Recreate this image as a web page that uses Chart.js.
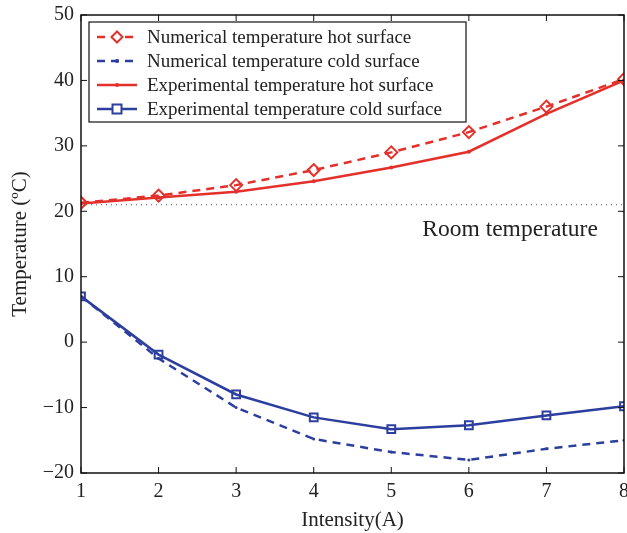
<!DOCTYPE html>
<html>
<head>
<meta charset="utf-8">
<script src="https://cdn.jsdelivr.net/npm/chart.js@4"></script>
<style>
html, body { margin: 0; padding: 0; background: #fff; }
#chart_box { width: 627px; height: 533px; }
</style>
</head>
<body>
<div id="chart_box"><canvas id="temp_chart"></canvas></div>
<script>
// data
var intensity = [1, 2, 3, 4, 5, 6, 7, 8];
var num_hot = [21.3, 22.4, 24.0, 26.3, 29.0, 32.1, 36.0, 40.2];
var num_cold = [7.0, -2.5, -10.0, -14.8, -16.8, -18.0, -16.3, -15.0];
var exp_hot = [21.2, 22.1, 23.0, 24.6, 26.7, 29.1, 34.9, 40.0];
var exp_cold = [7.0, -1.9, -8.0, -11.5, -13.3, -12.7, -11.2, -9.8];
var room_temp = 21;
var y_ticks = [-20, -10, 0, 10, 20, 30, 40, 50];

var red = '#e4302a';
var blue = '#2c3e9e';
var serif = '"Liberation Serif", "DejaVu Serif", serif';

function pts(values)
{
	var out = [];
	for (var i = 0; i < intensity.length; i++)
		out.push({x: intensity[i], y: values[i]});
	return out;
}

var legend_items = [
	{label: 'Numerical temperature hot surface', color: red, dash: [8, 6], marker: 'diamond'},
	{label: 'Numerical temperature cold surface', color: blue, dash: [8, 6], marker: 'dot'},
	{label: 'Experimental temperature hot surface', color: red, dash: [], marker: 'dot'},
	{label: 'Experimental temperature cold surface', color: blue, dash: [], marker: 'square'}
];

//frame, inward ticks, legend and room temperature label
var frame_plugin = {
	id: 'frame_plugin',
	afterDatasetsDraw: function(chart)
	{
		var ctx = chart.ctx;
		var a = chart.chartArea;
		var xs = chart.scales.x, ys = chart.scales.y;
		ctx.save();
		ctx.strokeStyle = '#111';
		ctx.lineWidth = 1.5;
		ctx.strokeRect(a.left, a.top, a.right - a.left, a.bottom - a.top);
		ctx.lineWidth = 1;
		for (var i = 0; i < intensity.length; i++)
		{
			var px = xs.getPixelForValue(intensity[i]);
			ctx.beginPath();
			ctx.moveTo(px, a.bottom); ctx.lineTo(px, a.bottom - 6);
			ctx.moveTo(px, a.top); ctx.lineTo(px, a.top + 6);
			ctx.stroke();
		}
		for (var j = 0; j < y_ticks.length; j++)
		{
			var py = ys.getPixelForValue(y_ticks[j]);
			ctx.beginPath();
			ctx.moveTo(a.left, py); ctx.lineTo(a.left + 6, py);
			ctx.moveTo(a.right, py); ctx.lineTo(a.right - 6, py);
			ctx.stroke();
		}

		// room temperature text
		ctx.fillStyle = '#222';
		ctx.font = '23.5px ' + serif;
		ctx.textAlign = 'left';
		ctx.textBaseline = 'middle';
		ctx.fillText('Room temperature', xs.getPixelForValue(5.4), ys.getPixelForValue(17.1));

		// legend
		var bx = 89, by = 22, bw = 377, bh = 100;
		ctx.fillStyle = '#fff';
		ctx.fillRect(bx, by, bw, bh);
		ctx.strokeStyle = '#111';
		ctx.lineWidth = 1.2;
		ctx.strokeRect(bx, by, bw, bh);
		ctx.font = '19px ' + serif;
		for (var k = 0; k < legend_items.length; k++)
		{
			var it = legend_items[k];
			var ly = by + 15 + k * 24;
			ctx.strokeStyle = it.color;
			ctx.fillStyle = it.color;
			ctx.lineWidth = 2.5;
			ctx.setLineDash(it.dash);
			ctx.beginPath();
			ctx.moveTo(97, ly); ctx.lineTo(137, ly);
			ctx.stroke();
			ctx.setLineDash([]);
			var mx = 117;
			if (it.marker == 'diamond')
			{
				ctx.fillStyle = '#fff';
				ctx.beginPath();
				ctx.moveTo(mx, ly - 5.5); ctx.lineTo(mx + 5.5, ly); ctx.lineTo(mx, ly + 5.5); ctx.lineTo(mx - 5.5, ly); ctx.closePath();
				ctx.fill(); ctx.lineWidth = 2; ctx.stroke();
			}
			else if (it.marker == 'square')
			{
				ctx.fillStyle = '#fff';
				ctx.fillRect(mx - 4.5, ly - 4.5, 9, 9);
				ctx.lineWidth = 2;
				ctx.strokeRect(mx - 4.5, ly - 4.5, 9, 9);
			}
			else
			{
				ctx.beginPath();
				ctx.arc(mx, ly, 2, 0, Math.PI * 2);
				ctx.fill();
			}
			ctx.fillStyle = '#222';
			ctx.fillText(it.label, 147, ly + 1);
		}
		ctx.restore();
	}
};

function minus_label(value)
{
	return String(value).replace('-', '\u2212');
}

var room_line = [];
for (var r = 0; r < intensity.length; r++) room_line.push(room_temp);

var chart_data = {
	datasets: [
		{
			data: pts(room_line),
			borderColor: '#555',
			borderWidth: 1,
			borderDash: [1, 4],
			pointRadius: 0
		},
		{
			label: 'Numerical temperature cold surface',
			data: pts(num_cold),
			borderColor: blue,
			backgroundColor: blue,
			borderWidth: 2.5,
			borderDash: [8, 6],
			pointRadius: 1.5,
			pointBorderWidth: 0
		},
		{
			label: 'Experimental temperature cold surface',
			data: pts(exp_cold),
			borderColor: blue,
			backgroundColor: 'rgba(255,255,255,0)',
			borderWidth: 2.5,
			pointStyle: 'rect',
			pointRadius: 5.5,
			pointBorderWidth: 2
		},
		{
			label: 'Experimental temperature hot surface',
			data: pts(exp_hot),
			borderColor: red,
			backgroundColor: red,
			borderWidth: 2.5,
			pointRadius: 2,
			pointBorderWidth: 0
		},
		{
			label: 'Numerical temperature hot surface',
			data: pts(num_hot),
			borderColor: red,
			backgroundColor: 'rgba(255,255,255,0)',
			borderWidth: 2.5,
			borderDash: [8, 6],
			pointStyle: 'rectRot',
			pointRadius: 6,
			pointBorderWidth: 2
		}
	]
};

var chart_options = {
	responsive: true,
	maintainAspectRatio: false,
	animation: false,
	layout: { autoPadding: false, padding: { top: 15, right: 3, left: 0, bottom: 0 } },
	plugins: {
		legend: { display: false },
		tooltip: { enabled: false }
	},
	scales: {
		x: {
			type: 'linear',
			min: 1,
			max: 8,
			ticks: { stepSize: 1, color: '#222', font: { family: serif, size: 20 }, padding: 7 },
			grid: { display: false, drawTicks: false },
			border: { display: false },
			title: { display: true, text: 'Intensity(A)', color: '#222', font: { family: serif, size: 21 }, padding: { top: 0, bottom: 0 } },
			afterFit: function(scale) { scale.height = 60; scale.paddingRight = 0; }
		},
		y: {
			min: -20,
			max: 50,
			ticks: { stepSize: 10, color: '#222', font: { family: serif, size: 20 }, padding: 7, callback: minus_label },
			grid: { display: false, drawTicks: false },
			border: { display: false },
			title: { display: true, text: 'Temperature (ºC)', color: '#222', font: { family: serif, size: 21 }, padding: { top: 8, bottom: 3 } },
			afterFit: function(scale) { scale.width = 81; scale.paddingTop = 0; }
		}
	}
};

var ctx = document.getElementById('temp_chart').getContext('2d');
var temp_chart = new Chart(ctx, {type: 'line', data: chart_data, options: chart_options, plugins: [frame_plugin]});
</script>
</body>
</html>
